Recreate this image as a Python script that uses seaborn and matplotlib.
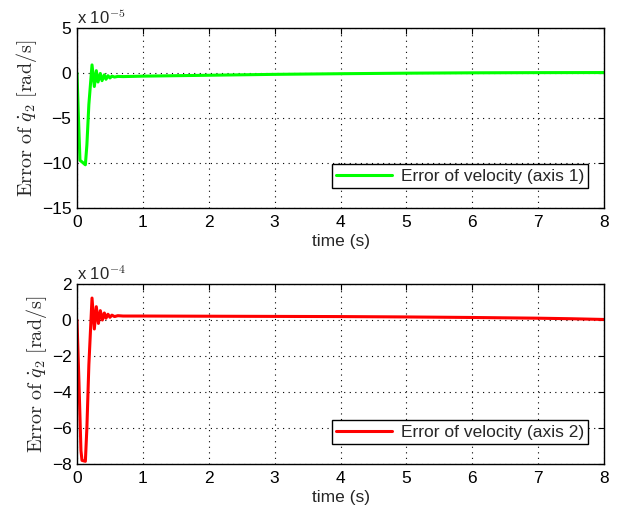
import numpy as np
import pandas as pd
import matplotlib
matplotlib.use("Agg")
import matplotlib.pyplot as plt
import seaborn as sns

# Data
t1 = [0.0, 0.02, 0.045, 0.08, 0.127, 0.15, 0.18, 0.228, 0.263, 0.293, 0.319, 0.354, 0.380, 0.415,
      0.44, 0.47, 0.50, 0.53, 0.57, 0.62, 0.7, 1.0, 2.0, 3.0, 4.0, 5.0, 6.0, 7.0, 8.0]
v1 = [0.0, -4.5, -9.7, -9.9, -10.2, -8.0, -3.5, 0.9, -1.5, 0.26, -1.0, -0.05, -0.85, -0.2,
      -0.7, -0.3, -0.55, -0.35, -0.45, -0.38, -0.4, -0.35, -0.25, -0.15, -0.08, -0.02, 0.02, 0.04, 0.05]

t2 = [0.0, 0.03, 0.06, 0.076, 0.127, 0.15, 0.18, 0.228, 0.263, 0.293, 0.325, 0.354, 0.385, 0.415,
      0.44, 0.47, 0.50, 0.53, 0.57, 0.62, 0.7, 1.0, 2.0, 3.0, 4.0, 5.0, 6.0, 7.0, 7.5, 8.0]
v2 = [0.0, -3.5, -7.26, -7.8, -7.85, -6.0, -2.5, 1.22, -0.5, 0.74, -0.19, 0.52, 0.0, 0.39,
      0.1, 0.32, 0.15, 0.27, 0.19, 0.24, 0.22, 0.22, 0.21, 0.2, 0.19, 0.17, 0.14, 0.1, 0.07, 0.03]

labels = ["Error of velocity (axis 1)", "Error of velocity (axis 2)"]
colors = ["#00ff00", "#ff0000"]
yticks1 = [5, 0, -5, -10, -15]
yticks2 = [2, 0, -2, -4, -6, -8]
xticks = [0, 1, 2, 3, 4, 5, 6, 7, 8]
exps = ["-5", "-4"]

sns.set_style("white")
plt.rcParams["font.family"] = ["Liberation Sans", "DejaVu Sans"]
plt.rcParams["mathtext.fontset"] = "cm"

fig = plt.figure(figsize=(6.38, 5.18), dpi=100)
W, H = 638, 518
ax1 = fig.add_axes([77 / W, 1 - 208 / H, 527 / W, 180 / H])
ax2 = fig.add_axes([77 / W, 1 - 464 / H, 527 / W, 180 / H])

datasets = [(t1, v1, yticks1), (t2, v2, yticks2)]
for i, (ax, (t, v, yt)) in enumerate(zip([ax1, ax2], datasets)):
    df = pd.DataFrame({"time": t, "err": v})
    sns.lineplot(data=df, x="time", y="err", ax=ax, color=colors[i], lw=2.2,
                 label=labels[i], estimator=None, sort=False)
    ax.set_xlim(0, 8)
    ax.set_ylim(min(yt), max(yt))
    ax.set_xticks(xticks)
    ax.set_yticks(yt)
    ax.set_xticklabels([str(x) for x in xticks])
    ax.set_yticklabels([str(y).replace("-", "\u2212") for y in yt])
    ax.tick_params(direction="in", length=4, width=0.8, top=True, right=True,
                   labelsize=12.5, colors="black")
    ax.tick_params(axis="x", pad=5)
    ax.tick_params(axis="y", pad=4)
    for s in ax.spines.values():
        s.set_color("black")
        s.set_linewidth(1.0)
        s.set_visible(True)
    ax.grid(True, linestyle=(0, (1, 4)), color="black", linewidth=0.8)
    ax.set_axisbelow(True)
    ax.set_xlabel("time (s)", fontsize=12.5, labelpad=3)
    ax.set_ylabel(r"$\mathrm{Error\ of\ }\dot{q}_2\ \mathrm{[rad/s]}$", fontsize=14.5, labelpad=2)
    ax.text(0.0, 1.005, r"x 10$^{%s}$" % exps[i].replace("-", "\u2212"), transform=ax.transAxes,
            fontsize=12, ha="left", va="bottom")
    leg = ax.legend(loc="lower right", bbox_to_anchor=(0.97, 0.11), fontsize=12.5,
                    frameon=True, fancybox=False, handlelength=3.2, borderpad=0.25,
                    handletextpad=0.5, borderaxespad=0.0)
    leg.get_frame().set_edgecolor("black")
    leg.get_frame().set_linewidth(1.0)
    leg.get_frame().set_alpha(1)

fig.savefig("out.png", dpi=100)
